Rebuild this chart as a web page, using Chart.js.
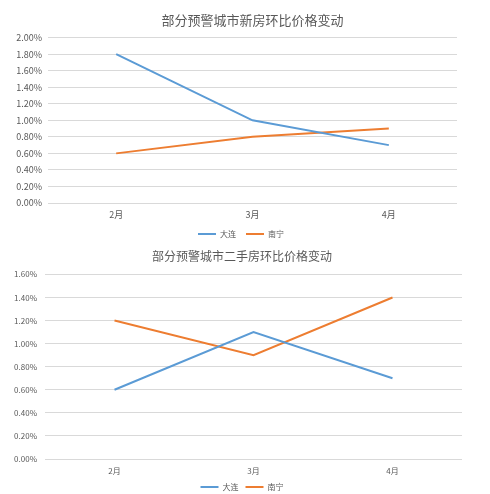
<!DOCTYPE html>
<html>
<head>
<meta charset="utf-8">
<script src="https://cdn.jsdelivr.net/npm/chart.js@4/dist/chart.umd.min.js"></script>
<style>
  html, body { margin: 0; padding: 0; background: #fff; }
  .box { position: relative; width: 490px; }
</style>
</head>
<body>
<div class="box" style="height:242px"><canvas id="newChart"></canvas></div>
<div class="box" style="height:252px"><canvas id="usedChart"></canvas></div>
<script>
'use strict';

// 数据
const months = ['2月', '3月', '4月'];
const cities = ['大连', '南宁'];
const newDalian = [1.8, 1.0, 0.7];
const newNanning = [0.6, 0.8, 0.9];
const usedDalian = [0.6, 1.1, 0.7];
const usedNanning = [1.2, 0.9, 1.4];

const blue = '#5B9BD5';
const orange = '#ED7D31';
const font = "'Noto Sans CJK SC', 'Noto Sans', sans-serif";

// 每个图表的排版参数放在 o 里
function makeChart(id, title, dalian, nanning, yMax, o) {
  const ctx = document.getElementById(id).getContext('2d');
  return new Chart(ctx, {
    type: 'line',
    data: {
      labels: months,
      datasets: [
        { label: cities[0], data: dalian, borderColor: blue, backgroundColor: blue,
          borderWidth: 2, pointRadius: 0, pointStyle: 'line', tension: 0 },
        { label: cities[1], data: nanning, borderColor: orange, backgroundColor: orange,
          borderWidth: 2, pointRadius: 0, pointStyle: 'line', tension: 0 }
      ]
    },
    options: {
      responsive: true,
      maintainAspectRatio: false,
      animation: false,
      layout: { padding: { left: 0, right: o.right, top: o.top, bottom: o.bottom } },
      plugins: {
        title: {
          display: true,
          fullSize: o.titleFull,
          text: title,
          color: '#595959',
          font: { family: font, size: o.titleSize, weight: 'normal' },
          padding: { top: 2, bottom: o.titleGap }
        },
        legend: {
          position: 'bottom',
          labels: {
            usePointStyle: true,
            pointStyleWidth: 18,
            boxHeight: 2,
            color: '#595959',
            font: { family: font, size: 8 },
            padding: o.legendPad
          }
        },
        tooltip: { enabled: false }
      },
      scales: {
        x: {
          offset: true,
          afterFit: s => { s.height = o.axisH; },
          grid: { display: false, drawTicks: false },
          border: { display: false },
          ticks: { color: '#595959', font: { family: font, size: o.tickSize }, padding: o.xPad }
        },
        y: {
          min: 0,
          max: yMax,
          afterFit: s => { s.width = o.axisW; },
          ticks: {
            stepSize: 0.2,
            color: '#595959',
            font: { family: font, size: o.tickSize },
            padding: o.yPad,
            callback: v => v.toFixed(2) + '%'
          },
          grid: { color: '#D9D9D9', drawTicks: false },
          border: { display: false }
        },
        // 右侧留白用的空轴
        yr: {
          position: 'right',
          min: 0,
          max: yMax,
          afterFit: s => { s.width = o.rightW; },
          ticks: { display: false },
          grid: { display: false, drawTicks: false },
          border: { display: false }
        }
      }
    }
  });
}

makeChart('newChart', '部分预警城市新房环比价格变动', newDalian, newNanning, 2.0,
  { right: 8, rightW: 25, top: 10, bottom: -6, titleFull: false, titleSize: 13, titleGap: 10,
    tickSize: 9, xPad: 6, axisH: 17, legendPad: 10, yPad: 6, axisW: 48 });
makeChart('usedChart', '部分预警城市二手房环比价格变动', usedDalian, usedNanning, 1.6,
  { right: 6, rightW: 22, top: 5, bottom: -7, titleFull: true, titleSize: 12, titleGap: 11,
    tickSize: 8, xPad: 7, axisH: 17, legendPad: 7, yPad: 8, axisW: 45 });
</script>
</body>
</html>
